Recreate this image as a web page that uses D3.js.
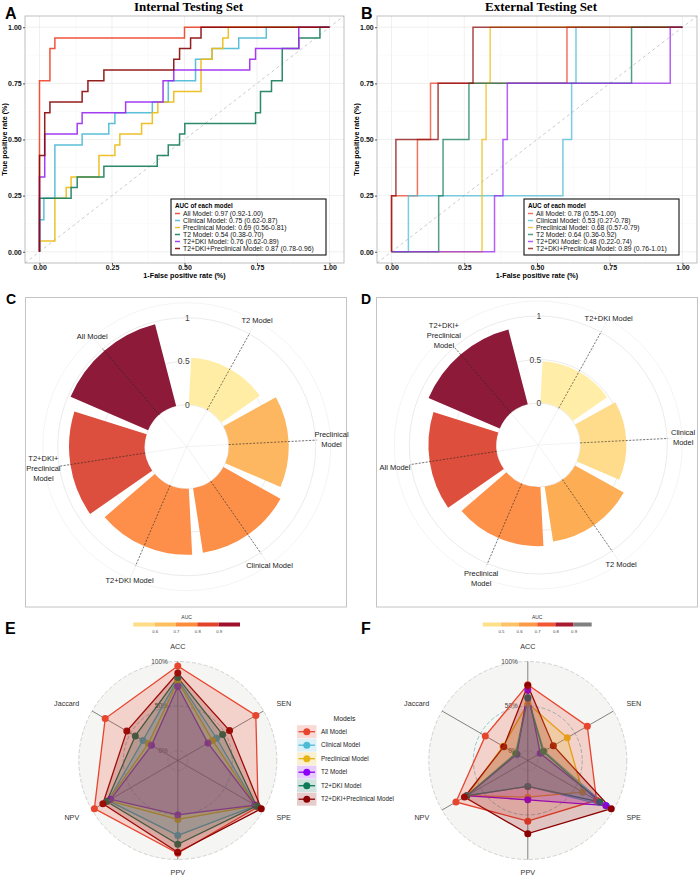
<!DOCTYPE html>
<html>
<head>
<meta charset="utf-8">
<script src="https://cdn.jsdelivr.net/npm/d3@7"></script>
<style>
  body { margin: 0; background: #fff; }
  svg { display: block; font-family: "Liberation Sans", Arial, sans-serif; }
</style>
</head>
<body>
<svg id="fig" width="700" height="877"></svg>
<script>
// ---- data ----
const modelNames = ['All Model', 'Clinical Model', 'Preclinical Model', 'T2 Model', 'T2+DKI Model', 'T2+DKI+Preclinical Model'];

// ROC step points [fpr, tpr]
const rocInternal = [
  [[0,0],[0,0.762],[0.036,0.905],[0.053,0.952],[0.5,1],[1,1]],
  [[0,0],[0,0.143],[0.015,0.238],[0.053,0.476],[0.147,0.524],[0.239,0.571],[0.26,0.619],[0.389,0.667],[0.444,0.762],[0.538,0.857],[0.595,0.905],[0.687,0.952],[0.782,1],[1,1]],
  [[0,0],[0,0.048],[0.053,0.238],[0.092,0.286],[0.109,0.333],[0.205,0.429],[0.26,0.476],[0.277,0.524],[0.352,0.571],[0.389,0.619],[0.408,0.667],[0.463,0.714],[0.557,0.857],[0.595,0.905],[0.632,0.952],[0.651,1],[1,1]],
  [[0,0],[0,0.238],[0.109,0.286],[0.13,0.333],[0.222,0.381],[0.406,0.429],[0.444,0.476],[0.483,0.524],[0.501,0.571],[0.745,0.619],[0.762,0.714],[0.8,0.762],[0.837,0.905],[0.894,0.952],[0.967,1],[1,1]],
  [[0,0],[0,0.333],[0.018,0.524],[0.13,0.571],[0.147,0.619],[0.297,0.667],[0.426,0.762],[0.463,0.81],[0.725,0.857],[0.745,0.905],[0.894,1],[1,1]],
  [[0,0],[0,0.429],[0.018,0.619],[0.036,0.667],[0.147,0.714],[0.167,0.762],[0.222,0.81],[0.463,0.857],[0.483,0.905],[0.521,0.952],[0.557,1],[1,1]]
];
const rocExternal = [
  [[0,0],[0,0.25],[0.089,0.5],[0.134,0.75],[0.603,1],[1,1]],
  [[0,0],[0.058,0.25],[0.589,0.5],[0.619,0.75],[0.634,1],[1,1]],
  [[0,0],[0.311,0.5],[0.325,0.75],[0.339,1],[1,1]],
  [[0,0],[0.162,0.25],[0.177,0.5],[0.266,0.75],[0.825,1],[1,1]],
  [[0,0],[0.354,0.25],[0.383,0.5],[0.398,0.75],[0.958,1],[1,1]],
  [[0,0],[0,0.25],[0.015,0.5],[0.16,0.75],[0.28,1],[1,1]]
];

const aucInternal = [0.97, 0.75, 0.69, 0.54, 0.76, 0.87];
const ciLowInternal = [0.92, 0.62, 0.56, 0.38, 0.62, 0.78];
const ciHighInternal = [1.00, 0.87, 0.81, 0.70, 0.89, 0.96];
const aucExternal = [0.78, 0.53, 0.68, 0.64, 0.48, 0.89];
const ciLowExternal = [0.55, 0.27, 0.57, 0.36, 0.22, 0.76];
const ciHighExternal = [1.00, 0.78, 0.79, 0.92, 0.74, 1.01];

// circular bar order (ascending AUC) and wrapped labels
const polarInternalOrder = ['T2 Model', 'Preclinical Model', 'Clinical Model', 'T2+DKI Model', 'T2+DKI+Preclinical Model', 'All Model'];
const polarInternalLabels = ['T2 Model', 'Preclinical\nModel', 'Clinical Model', 'T2+DKI Model', 'T2+DKI+\nPreclinical\nModel', 'All Model'];
const polarExternalOrder = ['T2+DKI Model', 'Clinical Model', 'T2 Model', 'Preclinical Model', 'All Model', 'T2+DKI+Preclinical Model'];
const polarExternalLabels = ['T2+DKI Model', 'Clinical\nModel', 'T2 Model', 'Preclinical\nModel', 'All Model', 'T2+DKI+\nPreclinical\nModel'];
const polarTicks = [0, 0.5, 1];

// radar metrics, rows follow modelNames
const radarAxes = ['ACC', 'SEN', 'SPE', 'PPV', 'NPV', 'Jaccard'];
const radarInternal = [
  [0.95, 0.90, 0.93, 0.93, 0.97, 0.83],
  [0.80, 0.39, 0.90, 0.73, 0.79, 0.34],
  [0.78, 0.34, 0.90, 0.55, 0.79, 0.27],
  [0.72, 0.28, 0.89, 0.50, 0.76, 0.23],
  [0.82, 0.47, 0.91, 0.83, 0.81, 0.44],
  [0.87, 0.56, 0.97, 0.92, 0.86, 0.55]
];
const radarExternal = [
  [0.74, 0.66, 0.78, 0.57, 0.82, 0.44],
  [0.60, 0.10, 0.91, 0.18, 0.68, 0.05],
  [0.53, 0.40, 0.60, 0.30, 0.68, 0.21],
  [0.68, 0.05, 0.90, 0.33, 0.68, 0.03],
  [0.59, 0.09, 0.82, 0.18, 0.68, 0.04],
  [0.73, 0.22, 0.97, 0.71, 0.71, 0.20]
];
const radarGrid = [0, 0.5, 1];
const radarGridLabels = ['0%', '50%', '100%'];

const aucBinsInternal = [0.6, 0.7, 0.8, 0.9];
const aucBinsExternal = [0.5, 0.6, 0.7, 0.8, 0.9];

// ---- styles ----
const rocColors = ['#EE452B', '#4DBBD5', '#EDBC16', '#1A7F5E', '#9B2BF2', '#8B0A0A'];
const radarColors = ['#E8452F', '#4DBBD5', '#E7B312', '#8A00F8', '#0E7A58', '#8B0000'];
const polarPaletteC = ['#FFEDA6', '#FDB761', '#FD9049', '#FD8F4A', '#DC4F3E', '#8E1A3A'];
const polarPaletteD = ['#FFEDA8', '#FEDC8C', '#FDAE55', '#FD914A', '#DD4F3C', '#8E1A3A'];
const binColorsE = ['#FFDC85', '#FDBF5F', '#FD8D3C', '#E3422A', '#A0102C'];
const binColorsF = ['#FFE08A', '#FEC268', '#FC9A48', '#F45532', '#A81B2E', '#808080'];

const svg = d3.select('#fig');
svg.append('rect').attr('width', 700).attr('height', 877).attr('fill', '#fff');

function panelLetter(x, y, t, size) {
  svg.append('text').attr('x', x).attr('y', y).attr('font-size', size).attr('font-weight', 'bold')
    .attr('fill', '#000').text(t);
}

function multiText(g, x, y, text, size, lh) {
  const lines = text.split('\n');
  const t = g.append('text').attr('x', x).attr('y', y).attr('font-size', size)
    .attr('text-anchor', 'middle').attr('fill', '#222');
  lines.forEach((s, i) => {
    t.append('tspan').attr('x', x)
      .attr('dy', i === 0 ? (size * 0.35 - (lines.length - 1) / 2 * lh) : lh)
      .text(s);
  });
}

// ---- ROC panels ----
function rocPanel(box, curves, auc, lo, hi, opacity, title, legendX) {
  const x = d3.scaleLinear().domain([-0.05, 1.05]).range([box.left, box.right]);
  const y = d3.scaleLinear().domain([-0.05, 1.05]).range([box.bottom, box.top]);
  const g = svg.append('g');
  const major = [0, 0.25, 0.5, 0.75, 1];
  const minor = [0.125, 0.375, 0.625, 0.875];

  g.selectAll('.gvm').data(minor).join('line')
    .attr('x1', d => x(d)).attr('x2', d => x(d)).attr('y1', box.top).attr('y2', box.bottom)
    .attr('stroke', '#F4F4F4').attr('stroke-width', 0.5);
  g.selectAll('.ghm').data(minor).join('line')
    .attr('y1', d => y(d)).attr('y2', d => y(d)).attr('x1', box.left).attr('x2', box.right)
    .attr('stroke', '#F4F4F4').attr('stroke-width', 0.5);
  g.selectAll('.gv').data(major).join('line')
    .attr('x1', d => x(d)).attr('x2', d => x(d)).attr('y1', box.top).attr('y2', box.bottom)
    .attr('stroke', '#EAEAEA').attr('stroke-width', 0.7);
  g.selectAll('.gh').data(major).join('line')
    .attr('y1', d => y(d)).attr('y2', d => y(d)).attr('x1', box.left).attr('x2', box.right)
    .attr('stroke', '#EAEAEA').attr('stroke-width', 0.7);

  // chance line
  g.append('line').attr('x1', x(-0.05)).attr('y1', y(-0.05)).attr('x2', x(1.05)).attr('y2', y(1.05))
    .attr('stroke', '#BDBDBD').attr('stroke-width', 0.8).attr('stroke-dasharray', '3,3');

  const line = d3.line().x(d => x(d[0])).y(d => y(d[1])).curve(d3.curveStepAfter);
  curves.forEach((c, i) => {
    g.append('path').attr('d', line(c)).attr('fill', 'none')
      .attr('stroke', rocColors[i]).attr('stroke-width', 1.5).attr('stroke-opacity', opacity);
  });

  g.append('rect').attr('x', box.left).attr('y', box.top)
    .attr('width', box.right - box.left).attr('height', box.bottom - box.top)
    .attr('fill', 'none').attr('stroke', '#B0B0B0').attr('stroke-width', 0.8);

  const fmt = d3.format('.2f');
  const xa = g.append('g').attr('transform', `translate(0,${box.bottom})`)
    .call(d3.axisBottom(x).tickValues(major).tickFormat(fmt).tickSize(2).tickPadding(0));
  const ya = g.append('g').attr('transform', `translate(${box.left},0)`)
    .call(d3.axisLeft(y).tickValues(major).tickFormat(fmt).tickSize(2).tickPadding(1.3));
  [xa, ya].forEach(a => {
    a.select('.domain').remove();
    a.selectAll('line').attr('stroke', '#555');
    a.selectAll('text').attr('font-size', 7).attr('font-weight', 'bold').attr('fill', '#111')
      .attr('font-family', '"Liberation Sans", Arial, sans-serif');
  });

  const cxm = (box.left + box.right) / 2;
  g.append('text').attr('x', cxm).attr('y', 278).attr('text-anchor', 'middle')
    .attr('font-size', 7.2).attr('font-weight', 'bold').text('1-False positive rate (%)');
  g.append('text').attr('transform', `translate(${box.left - 18.5},${(box.top + box.bottom) / 2}) rotate(-90)`)
    .attr('text-anchor', 'middle').attr('font-size', 7.2).attr('font-weight', 'bold')
    .text('True positive rate (%)');
  g.append('text').attr('x', cxm + 4).attr('y', 10.5).attr('text-anchor', 'middle')
    .attr('font-family', '"Liberation Serif", "Times New Roman", serif')
    .attr('font-size', 13).attr('font-weight', 'bold').text(title);

  // legend
  const lg = g.append('g').attr('transform', `translate(${legendX},199)`);
  lg.append('rect').attr('width', 155).attr('height', 56).attr('fill', '#fff')
    .attr('stroke', '#111').attr('stroke-width', 1.1);
  lg.append('text').attr('x', 4).attr('y', 8.5).attr('font-size', 6.3).attr('font-weight', 'bold')
    .text('AUC of each model');
  modelNames.forEach((m, i) => {
    const yy = 14.5 + i * 7;
    lg.append('line').attr('x1', 4).attr('x2', 9).attr('y1', yy).attr('y2', yy)
      .attr('stroke', rocColors[i]).attr('stroke-width', 1.5).attr('stroke-opacity', opacity);
    lg.append('text').attr('x', 12).attr('y', yy + 2.3).attr('font-size', 6.8).attr('fill', '#111')
      .text(`${m}: ${fmt(auc[i])} (${fmt(lo[i])}-${fmt(hi[i])})`);
  });
}

rocPanel({ left: 25, right: 344, top: 16, bottom: 263 }, rocInternal, aucInternal, ciLowInternal, ciHighInternal,
  0.92, 'Internal Testing Set', 171);
rocPanel({ left: 377, right: 697, top: 16, bottom: 263 }, rocExternal, aucExternal, ciLowExternal, ciHighExternal,
  0.75, 'External Testing Set', 524);
panelLetter(5, 18.5, 'A', 16);
panelLetter(361, 18.5, 'B', 16);

// ---- circular bar panels ----
function polarPanel(frameX, cx, cy, order, labels, aucs, palette) {
  const g = svg.append('g');
  g.append('rect').attr('x', frameX).attr('y', 297.5).attr('width', 321).attr('height', 309.5)
    .attr('fill', '#fff').attr('stroke', '#C4C4C4').attr('stroke-width', 1);
  const c = g.append('g').attr('transform', `translate(${cx},${cy})`);
  const r = d3.scaleLinear().domain([0, 1]).range([42, 129]);
  const step = 2 * Math.PI / (order.length + 0.2);
  const ang = i => (i + 0.5) * step;

  [r(0), r(0.5), r(1), 144].forEach((rr, k) => {
    c.append('circle').attr('r', rr).attr('fill', 'none')
      .attr('stroke', k === 3 ? '#EFEFEF' : '#E2E2E2').attr('stroke-width', 0.7);
  });
  order.forEach((m, i) => {
    const a = ang(i);
    c.append('line').attr('x1', 0).attr('y1', 0).attr('x2', 144 * Math.sin(a)).attr('y2', -144 * Math.cos(a))
      .attr('stroke', '#ECECEC').attr('stroke-width', 0.7);
  });

  const arc = d3.arc();
  order.forEach((m, i) => {
    const v = aucs[modelNames.indexOf(m)];
    c.append('path').attr('d', arc({
      innerRadius: r(0), outerRadius: r(v),
      startAngle: ang(i) - 0.45 * step, endAngle: ang(i) + 0.45 * step
    })).attr('fill', palette[i]);
  });

  order.forEach((m, i) => {
    const a = ang(i);
    c.append('line').attr('x1', r(0) * Math.sin(a)).attr('y1', -r(0) * Math.cos(a))
      .attr('x2', 130 * Math.sin(a)).attr('y2', -130 * Math.cos(a))
      .attr('stroke', '#222').attr('stroke-width', 0.6).attr('stroke-dasharray', '2,1.5');
    multiText(c, 145 * Math.sin(a), -145 * Math.cos(a), labels[i], 7.5, 10);
  });

  polarTicks.forEach(t => {
    c.append('text').attr('x', 3).attr('y', -r(t) + 3).attr('text-anchor', 'end')
      .attr('font-size', 8.5).attr('fill', '#444').text(d3.format('')(t));
  });
}

polarPanel(25.5, 186.7, 446.7, polarInternalOrder, polarInternalLabels, aucInternal, polarPaletteC);
polarPanel(376.5, 538.3, 445, polarExternalOrder, polarExternalLabels, aucExternal, polarPaletteD);
panelLetter(6, 303.5, 'C', 14);
panelLetter(361, 304, 'D', 14);

// ---- AUC colour bars ----
function colorBar(x0, x1, bins, colors) {
  const n = colors.length;
  const lo = bins[0] - (bins[1] - bins[0]);
  const hi = bins[bins.length - 1] + (bins[1] - bins[0]);
  const x = d3.scaleLinear().domain([lo, hi]).range([x0, x1]);
  const g = svg.append('g');
  const edges = [lo, ...bins, hi];
  for (let i = 0; i < n; i++) {
    g.append('rect').attr('x', x(edges[i])).attr('y', 622.5).attr('width', x(edges[i + 1]) - x(edges[i]))
      .attr('height', 4).attr('fill', colors[i]);
  }
  g.append('text').attr('x', (x0 + x1) / 2).attr('y', 619).attr('text-anchor', 'middle')
    .attr('font-size', 5).attr('fill', '#333').text('AUC');
  const ax = g.append('g').attr('transform', 'translate(0,626.5)')
    .call(d3.axisBottom(x).tickValues(bins).tickSize(0).tickPadding(3).tickFormat(d3.format('.1f')));
  ax.select('.domain').remove();
  ax.selectAll('text').attr('font-size', 4.3).attr('fill', '#444')
    .attr('font-family', '"Liberation Sans", Arial, sans-serif');
}
colorBar(133.3, 240, aucBinsInternal, binColorsE);
colorBar(482.7, 591.7, aucBinsExternal, binColorsF);

// ---- radar panels ----
function radarPanel(cx, cy, rows) {
  const R = 99;
  const r = d3.scaleLinear().domain([-1 / 9, 1]).range([0, R]);
  const step = 2 * Math.PI / radarAxes.length;
  const g = svg.append('g').attr('transform', `translate(${cx},${cy})`);

  g.append('circle').attr('r', R).attr('fill', '#F5F5F3');
  radarGrid.forEach(v => {
    g.append('circle').attr('r', r(v)).attr('fill', 'none')
      .attr('stroke', v === 0.5 ? '#5AA6AE' : '#B5B5B5').attr('stroke-width', 0.6)
      .attr('stroke-dasharray', '4,2');
  });
  radarAxes.forEach((a, i) => {
    const t = i * step;
    g.append('line').attr('x1', 0).attr('y1', 0).attr('x2', R * Math.sin(t)).attr('y2', -R * Math.cos(t))
      .attr('stroke', '#333').attr('stroke-width', 0.6);
    const lx = 1.15 * R * Math.sin(t), ly = -1.15 * R * Math.cos(t);
    const anchor = Math.abs(Math.sin(t)) < 0.01 ? 'middle' : (Math.sin(t) > 0 ? 'start' : 'end');
    g.append('text').attr('x', lx).attr('y', Math.min(ly + 2.5, 874.6 - cy)).attr('text-anchor', anchor)
      .attr('font-size', 7.2).attr('fill', '#333').text(a);
  });
  radarGrid.forEach((v, i) => {
    g.append('text').attr('x', -10).attr('y', -r(v) + 2.3).attr('text-anchor', 'end')
      .attr('font-size', 6.5).attr('fill', '#444').text(radarGridLabels[i]);
  });

  const radial = d3.lineRadial().angle((d, i) => i * step).radius(d => r(d)).curve(d3.curveLinearClosed);
  rows.forEach((row, k) => {
    g.append('path').attr('d', radial(row)).attr('fill', 'none')
      .attr('stroke', radarColors[k]).attr('stroke-width', 1.3);
  });
  rows.forEach((row, k) => {
    row.forEach((v, i) => {
      g.append('circle').attr('cx', r(v) * Math.sin(i * step)).attr('cy', -r(v) * Math.cos(i * step))
        .attr('r', 3.5).attr('fill', radarColors[k]);
    });
  });
  rows.forEach((row, k) => {
    g.append('path').attr('d', radial(row)).attr('fill', radarColors[k]).attr('fill-opacity', 0.2);
  });
}
radarPanel(177.8, 760.5, radarInternal);
radarPanel(527.8, 760.5, radarExternal);
panelLetter(5, 633.5, 'E', 16);
panelLetter(361, 633.5, 'F', 16);

// shared legend
const leg = svg.append('g');
leg.append('text').attr('x', 344.5).attr('y', 720.5).attr('text-anchor', 'middle')
  .attr('font-size', 6.8).attr('fill', '#222').text('Models');
modelNames.forEach((m, i) => {
  const yy = 731.7 + i * 13.5;
  leg.append('rect').attr('x', 297).attr('y', yy - 6.5).attr('width', 19.5).attr('height', 13)
    .attr('fill', radarColors[i]).attr('fill-opacity', 0.2);
  leg.append('line').attr('x1', 298.5).attr('x2', 315).attr('y1', yy).attr('y2', yy)
    .attr('stroke', radarColors[i]).attr('stroke-width', 1.3);
  leg.append('circle').attr('cx', 306.8).attr('cy', yy).attr('r', 3.5).attr('fill', radarColors[i]);
  leg.append('text').attr('x', 321).attr('y', yy + 2.2).attr('font-size', 6.3).attr('fill', '#222').text(m);
});
</script>
</body>
</html>
